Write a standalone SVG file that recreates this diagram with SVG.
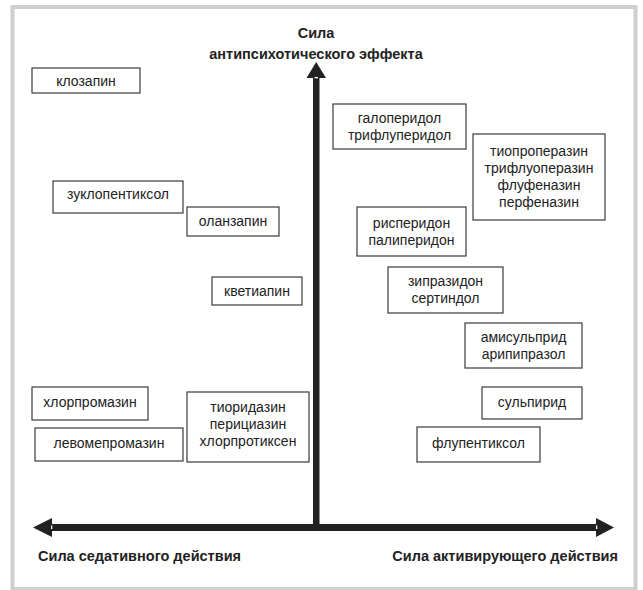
<svg xmlns="http://www.w3.org/2000/svg" width="643" height="590" viewBox="0 0 643 590">
<style>
.box{fill:#fff;stroke:#3a3a3a;stroke-width:1.2}
.t{font-family:"Liberation Sans",Arial,sans-serif;font-size:14px;fill:#222;text-anchor:middle}
.lb{font-family:"Liberation Sans",Arial,sans-serif;font-size:14.5px;font-weight:bold;fill:#222}
</style>
<rect x="0" y="0" width="643" height="590" fill="#fff"/>
<rect x="12.5" y="7" width="623" height="582" fill="#fff" stroke="#cfcfcf" stroke-width="4"/>
<g id="connectors">
<rect x="313" y="76" width="6.5" height="455" fill="#222"/>
<polygon points="316.2,62 306.5,78 326,78" fill="#222"/>
<rect x="314.5" y="77" width="3.5" height="1.3" fill="#fff"/>
<rect x="51" y="524" width="548" height="7" fill="#222"/>
<polygon points="33,527.5 52,518 52,537" fill="#222"/>
<polygon points="614,527.5 596,518 596,537" fill="#222"/>
<rect x="51" y="525.5" width="1.3" height="3.5" fill="#fff"/>
<rect x="596" y="525.5" width="1.3" height="3.5" fill="#fff"/>
</g>
<g id="labels">
<text class="lb" x="316" y="38" text-anchor="middle">Сила</text>
<text class="lb" x="316" y="59" text-anchor="middle">антипсихотического эффекта</text>
<text class="lb" x="38" y="561">Сила седативного действия</text>
<text class="lb" x="618" y="561" text-anchor="end">Сила активирующего действия</text>
</g>
<g id="n-klozapin"><rect class="box" x="32" y="68" width="108" height="25"/><text class="t" x="86" y="85.5">клозапин</text></g>
<g id="n-haloperidol"><rect class="box" x="333" y="104" width="133" height="45"/><text class="t" x="399.5" y="123">галоперидол</text><text class="t" x="399.5" y="140">трифлуперидол</text></g>
<g id="n-tioproperazin"><rect class="box" x="473" y="134" width="132" height="86"/><text class="t" x="539" y="156">тиопроперазин</text><text class="t" x="539" y="173">трифлуоперазин</text><text class="t" x="539" y="190">флуфеназин</text><text class="t" x="539" y="207">перфеназин</text></g>
<g id="n-zuklopentiksol"><rect class="box" x="53" y="181" width="130" height="32"/><text class="t" x="118" y="199">зуклопентиксол</text></g>
<g id="n-olanzapin"><rect class="box" x="187" y="207" width="92" height="29"/><text class="t" x="233" y="226">оланзапин</text></g>
<g id="n-risperidon"><rect class="box" x="357" y="207" width="109" height="49"/><text class="t" x="411.5" y="228">рисперидон</text><text class="t" x="411.5" y="245">палиперидон</text></g>
<g id="n-kvetiapin"><rect class="box" x="212" y="277" width="90" height="28"/><text class="t" x="257" y="295.5">кветиапин</text></g>
<g id="n-ziprazidon"><rect class="box" x="388" y="267" width="115" height="46"/><text class="t" x="445.5" y="286">зипразидон</text><text class="t" x="445.5" y="303">сертиндол</text></g>
<g id="n-amisulprid"><rect class="box" x="465" y="323" width="117" height="45"/><text class="t" x="523.5" y="342">амисульприд</text><text class="t" x="523.5" y="359">арипипразол</text></g>
<g id="n-sulpirid"><rect class="box" x="482" y="387" width="100" height="32"/><text class="t" x="532" y="407">сульпирид</text></g>
<g id="n-hlorpromazin"><rect class="box" x="32" y="387" width="116" height="33"/><text class="t" x="90" y="407">хлорпромазин</text></g>
<g id="n-levomepromazin"><rect class="box" x="35" y="428" width="148" height="33"/><text class="t" x="109" y="448">левомепромазин</text></g>
<g id="n-tioridazin"><rect class="box" x="187" y="392" width="122" height="70"/><text class="t" x="248" y="412">тиоридазин</text><text class="t" x="248" y="429">перициазин</text><text class="t" x="248" y="446">хлорпротиксен</text></g>
<g id="n-flupentiksol"><rect class="box" x="417" y="427" width="123" height="35"/><text class="t" x="478.5" y="448">флупентиксол</text></g>
</svg>
